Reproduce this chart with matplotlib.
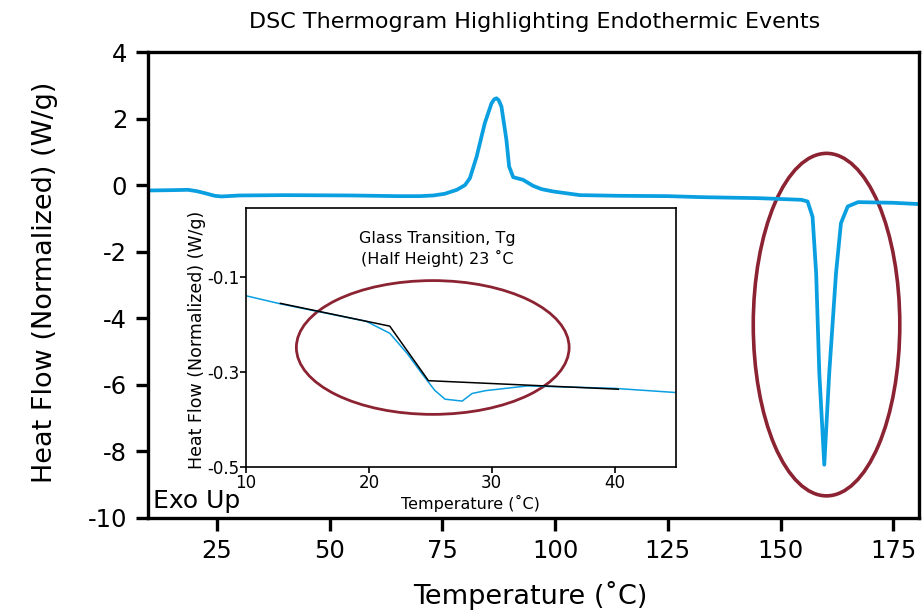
import numpy as np
import matplotlib
matplotlib.use("Agg")
import matplotlib.pyplot as plt
from matplotlib.patches import Ellipse

plt.rcParams['font.family'] = ['DejaVu Sans']
plt.rcParams['axes.unicode_minus'] = False

# main DSC trace
temp = [9.7, 15, 18.6, 20.5, 22.3, 24.5, 26, 30, 40, 55, 65, 70, 73, 75.5, 78.2, 80,
        81.1, 82.6, 84.4, 85.9, 86.5, 87.0, 87.5, 88.1, 89.2, 89.8, 90.7, 92.9, 95.1, 97,
        99.6, 105.5, 114.4, 125, 132.3, 145, 154.6, 156.0, 157.1, 157.9, 158.6, 159.7,
        160.8, 162.3, 163.4, 164.9, 167.2, 175, 181]
heat = [-0.16, -0.15, -0.14, -0.18, -0.24, -0.32, -0.34, -0.31, -0.30, -0.31, -0.33,
        -0.33, -0.31, -0.26, -0.14, 0.0, 0.21, 0.86, 1.86, 2.46, 2.58, 2.61, 2.55, 2.36,
        1.36, 0.56, 0.24, 0.16, -0.02, -0.12, -0.19, -0.30, -0.32, -0.33, -0.36, -0.39,
        -0.44, -0.49, -0.95, -2.65, -5.65, -8.40, -5.65, -2.65, -1.14, -0.64, -0.51,
        -0.53, -0.57]

# zoomed glass transition
tg_temp = [10, 12.8, 19.8, 21.7, 23.1, 24.2, 25.35, 26.2, 27.6, 28.4, 29.5, 32.9, 39.9, 45]
tg_heat = [-0.139, -0.156, -0.193, -0.218, -0.260, -0.299, -0.338, -0.357, -0.361,
           -0.345, -0.339, -0.329, -0.334, -0.343]
# tangent construction
tan_temp = [12.8, 21.7, 24.85, 40.3]
tan_heat = [-0.155, -0.203, -0.318, -0.336]

blue = '#0a9fe0'
red = '#8b2332'

fig = plt.figure(figsize=(9.22, 6.12), dpi=100)
ax = fig.add_axes([0.1605, 0.1536, 0.8362, 0.7614])
ax.plot(temp, heat, color=blue, lw=2.7, solid_capstyle='round', solid_joinstyle='round')
ax.set_xlim(9.7, 180.7)
ax.set_ylim(-10, 4)
ax.set_xticks([25, 50, 75, 100, 125, 150, 175])
ax.set_yticks([4, 2, 0, -2, -4, -6, -8, -10])
for s in ax.spines.values():
    s.set_linewidth(2.4)
ax.tick_params(direction='out', length=9, width=2.4, labelsize=17.5, pad=6)
ax.add_patch(Ellipse((160.2, -4.19), 32.5, 10.29, fill=False, ec=red, lw=2.6))
ax.text(10.8, -9.85, 'Exo Up', fontsize=18, ha='left', va='bottom')

fig.text(535/922, 1 - 22/612, 'DSC Thermogram Highlighting Endothermic Events',
         fontsize=16, ha='center', va='center')
fig.text(45/922, 1 - 282/612, 'Heat Flow (Normalized) (W/g)', fontsize=19.5,
         rotation=90, ha='center', va='center')
fig.text(530/922, 1 - 595/612, 'Temperature (˚C)', fontsize=19.5, ha='center', va='center')

# inset
ins = fig.add_axes([0.2668, 0.2369, 0.4664, 0.4232])
ins.plot(tg_temp, tg_heat, color=blue, lw=1.1)
ins.plot(tan_temp, tan_heat, color='black', lw=1.1)
ins.set_xlim(10, 45)
ins.set_ylim(-0.5, 0.046)
ins.set_xticks([10, 20, 30, 40])
ins.set_yticks([-0.1, -0.3, -0.5])
ins.set_yticklabels(['-0.1', '-0.3', '-0.5'])
for s in ins.spines.values():
    s.set_linewidth(1.2)
ins.tick_params(direction='out', length=4, width=1.2, labelsize=12, pad=1)
ins.add_patch(Ellipse((25.2, -0.248), 22.2, 0.282, fill=False, ec=red, lw=2.0))
ins.text(25.6, -0.041, 'Glass Transition, Tg\n(Half Height) 23 ˚C', fontsize=11.5,
         ha='center', va='center', linespacing=1.3)
fig.text(197/922, 1 - 340/612, 'Heat Flow (Normalized) (W/g)', fontsize=12.5,
         rotation=90, ha='center', va='center')
fig.text(470/922, 1 - 503/612, 'Temperature (˚C)', fontsize=11.5, ha='center', va='center')

fig.savefig('out.png', dpi=100)
